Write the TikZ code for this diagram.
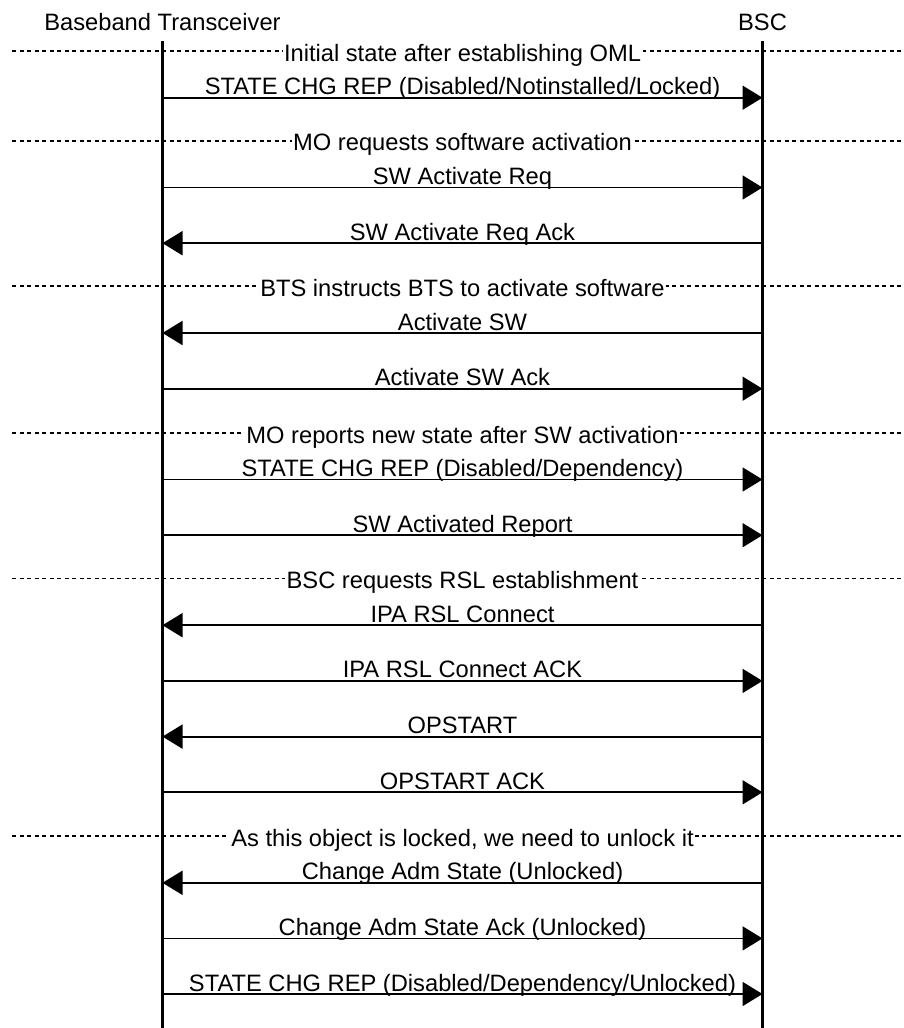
\documentclass[tikz,border=0pt]{standalone}
\usepackage{fontspec}
\setmainfont{Liberation Sans}
\usetikzlibrary{arrows.meta}

\begin{document}
\begin{tikzpicture}[x=1pt,y=-1pt,
  every node/.style={font=\fontsize{23.7}{28}\selectfont, inner sep=0pt},
  life/.style={line width=2.2pt},
  msg/.style={line width=1.8pt, -{Triangle[length=20pt,width=24pt]}},
  sep/.style={line width=1.6pt, dash pattern=on 4pt off 3.5pt},
  lbl/.style={anchor=base, yshift=3pt},
  seplbl/.style={anchor=base, fill=white, inner xsep=1.5pt, inner ysep=1pt}]
\useasboundingbox (0,0) rectangle (904,1028);
% entities and lifelines
\node [anchor=base] (bt) at (162.5,30) {Baseband Transceiver};
\node [anchor=base] (bsc) at (762.5,30) {BSC};
\coordinate (top) at (0,41);
\coordinate (bot) at (0,1028);
\draw [life] (bt |- top) -- (bt |- bot);
\draw [life] (bsc |- top) -- (bsc |- bot);
% rows
\coordinate (s0) at (0,51);
\coordinate (r1) at (0,97.7);
\coordinate (s1) at (0,140.7);
\coordinate (r2) at (0,187.5);
\coordinate (r3) at (0,243.2);
\coordinate (s2) at (0,286);
\coordinate (r4) at (0,333);
\coordinate (r5) at (0,388.7);
\coordinate (s3) at (0,433);
\coordinate (r6) at (0,479.5);
\coordinate (r7) at (0,535.2);
\coordinate (s4) at (0,578.5);
\coordinate (r8) at (0,625.2);
\coordinate (r9) at (0,680.9);
\coordinate (r10) at (0,736.6);
\coordinate (r11) at (0,792.3);
\coordinate (s5) at (0,836);
\coordinate (r12) at (0,882.8);
\coordinate (r13) at (0,938.4);
\coordinate (r14) at (0,994);
% separators
\draw [sep] (12,0 |- s0) -- (904,0 |- s0);
\node [seplbl] (t0) at ([yshift=-10pt]462.5,0 |- s0) {Initial state after establishing OML};
\draw [sep] (12,0 |- s1) -- (904,0 |- s1);
\node [seplbl] (t1) at ([yshift=-10pt]462.5,0 |- s1) {MO requests software activation};
\draw [sep] (12,0 |- s2) -- (904,0 |- s2);
\node [seplbl] (t2) at ([yshift=-10pt]462.5,0 |- s2) {BTS instructs BTS to activate software};
\draw [sep] (12,0 |- s3) -- (904,0 |- s3);
\node [seplbl] (t3) at ([yshift=-10pt]462.5,0 |- s3) {MO reports new state after SW activation};
\draw [sep] (12,0 |- s4) -- (904,0 |- s4);
\node [seplbl] (t4) at ([yshift=-10pt]462.5,0 |- s4) {BSC requests RSL establishment};
\draw [sep] (12,0 |- s5) -- (904,0 |- s5);
\node [seplbl] (t5) at ([yshift=-10pt]462.5,0 |- s5) {As this object is locked, we need to unlock it};
% messages
\draw [msg] (bt |- r1) -- node [lbl] (m1) {STATE CHG REP (Disabled/Notinstalled/Locked)} (bsc |- r1);
\draw [msg] (bt |- r2) -- node [lbl] (m2) {SW Activate Req} (bsc |- r2);
\draw [msg] (bsc |- r3) -- node [lbl] (m3) {SW Activate Req Ack} (bt |- r3);
\draw [msg] (bsc |- r4) -- node [lbl] (m4) {Activate SW} (bt |- r4);
\draw [msg] (bt |- r5) -- node [lbl] (m5) {Activate SW Ack} (bsc |- r5);
\draw [msg] (bt |- r6) -- node [lbl] (m6) {STATE CHG REP (Disabled/Dependency)} (bsc |- r6);
\draw [msg] (bt |- r7) -- node [lbl] (m7) {SW Activated Report} (bsc |- r7);
\draw [msg] (bsc |- r8) -- node [lbl] (m8) {IPA RSL Connect} (bt |- r8);
\draw [msg] (bt |- r9) -- node [lbl] (m9) {IPA RSL Connect ACK} (bsc |- r9);
\draw [msg] (bsc |- r10) -- node [lbl] (m10) {OPSTART} (bt |- r10);
\draw [msg] (bt |- r11) -- node [lbl] (m11) {OPSTART ACK} (bsc |- r11);
\draw [msg] (bsc |- r12) -- node [lbl] (m12) {Change Adm State (Unlocked)} (bt |- r12);
\draw [msg] (bt |- r13) -- node [lbl] (m13) {Change Adm State Ack (Unlocked)} (bsc |- r13);
\draw [msg] (bt |- r14) -- node [lbl] (m14) {STATE CHG REP (Disabled/Dependency/Unlocked)} (bsc |- r14);
\end{tikzpicture}
\end{document}
